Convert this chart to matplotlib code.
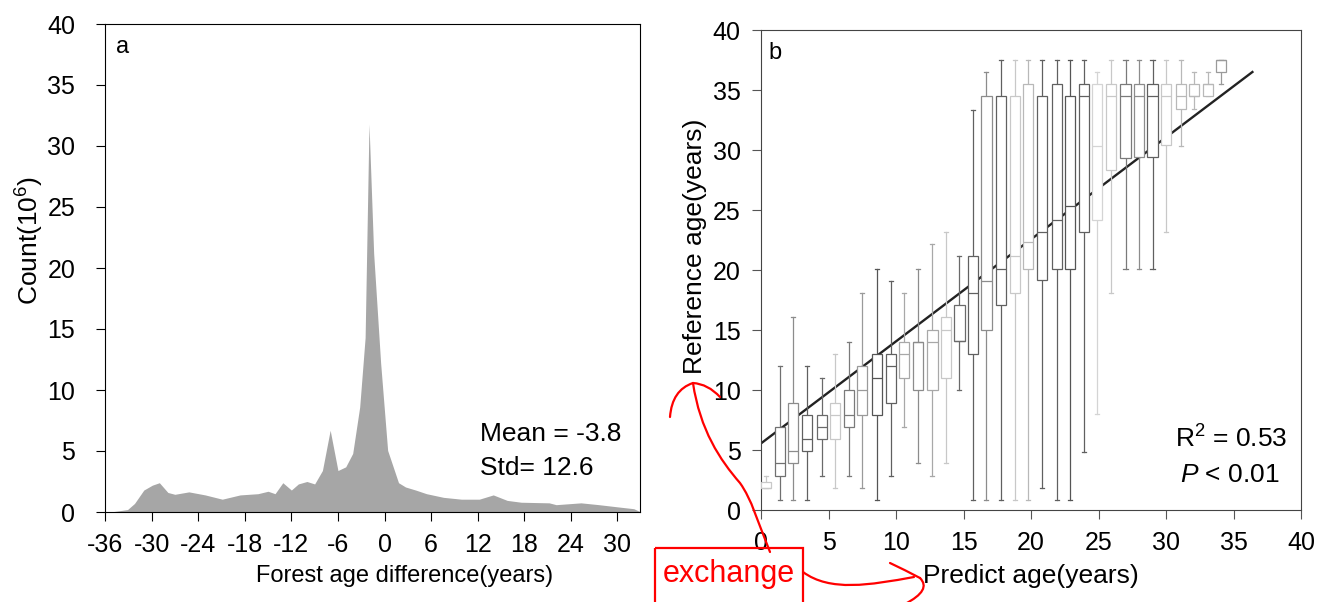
import matplotlib.pyplot as plt
from matplotlib.path import Path
from matplotlib.patches import PathPatch, Rectangle

plt.rcParams['font.family'] = ['Liberation Sans', 'DejaVu Sans']
plt.rcParams['mathtext.fontset'] = 'custom'
plt.rcParams['mathtext.rm'] = 'Liberation Sans'
plt.rcParams['mathtext.it'] = 'Liberation Sans:italic'
plt.rcParams['axes.unicode_minus'] = False

# panel a: distribution of forest age difference
diff_x = [-35.3, -33.1, -32.2, -31.0, -29.9, -29.0, -27.9, -27.0, -25.2, -23.1,
          -20.9, -18.6, -16.3, -15.0, -14.1, -13.1, -12.0, -11.1, -10.0, -9.0,
          -8.0, -7.0, -6.0, -5.0, -4.1, -3.2, -2.5, -2.0, -1.4, -0.5,
          0.4, 1.8, 2.7, 4.0, 5.4, 7.6, 9.9, 12.2, 14.0, 15.8,
          17.6, 21.2, 22.1, 25.3, 27.6, 30.3, 32.1, 33.0]
counts = [0, 0.2, 0.7, 1.8, 2.2, 2.4, 1.6, 1.45, 1.65, 1.4,
          1.05, 1.4, 1.5, 1.7, 1.5, 2.4, 1.8, 2.3, 2.5, 2.3,
          3.4, 6.7, 3.4, 3.7, 4.8, 8.6, 14.3, 31.8, 21.2, 12.2,
          5.05, 2.4, 2.05, 1.8, 1.5, 1.2, 1.05, 1.05, 1.4, 0.95,
          0.8, 0.75, 0.6, 0.75, 0.6, 0.4, 0.27, 0]

# panel b: reference age per predicted age bin
box_pos = [0.4, 1.4, 2.4, 3.4, 4.5, 5.5, 6.5, 7.5, 8.6, 9.6, 10.6, 11.6,
           12.7, 13.7, 14.7, 15.7, 16.7, 17.8, 18.8, 19.8, 20.8, 21.9, 22.9,
           23.9, 24.9, 25.9, 27.0, 28.0, 29.0, 30.0, 31.1, 32.1, 33.1, 34.1]
whislo = [1.8, 0.83, 0.83, 0.83, 2.85, 1.85, 2.85, 1.85, 0.83, 2.85, 6.9, 3.9,
          2.85, 3.9, 10.0, 0.83, 0.83, 0.83, 0.83, 0.83, 1.8, 0.83, 0.83,
          4.85, 7.97, 18.1, 20.1, 20.1, 20.1, 23.2, 30.3, 33.4, 34.5, 35.5]
q1 = [1.8, 2.85, 3.9, 4.9, 5.9, 5.9, 6.9, 7.95, 7.95, 8.95, 11.0, 10.0,
      10.0, 11.0, 14.1, 13.0, 15.0, 17.1, 18.1, 20.1, 19.2, 20.1, 20.1,
      23.2, 24.2, 28.3, 29.3, 29.4, 29.4, 30.4, 33.4, 34.5, 34.5, 36.5]
med = [1.8, 3.9, 4.9, 5.9, 6.9, 7.95, 7.95, 9.97, 11.0, 12.0, 13.0, 14.0,
       14.0, 15.0, 14.1, 18.1, 19.1, 20.1, 21.2, 22.3, 23.2, 24.2, 25.3,
       34.5, 30.3, 34.5, 34.5, 34.5, 34.5, 34.5, 34.5, 34.5, 35.5, 37.5]
q3 = [2.35, 6.9, 8.95, 7.95, 7.95, 8.95, 9.97, 12.0, 13.0, 13.0, 14.0, 14.0,
      15.0, 16.1, 17.1, 21.2, 34.5, 34.5, 34.5, 35.5, 34.5, 35.5, 34.5,
      35.5, 35.5, 35.5, 35.5, 35.5, 35.5, 35.5, 35.5, 35.5, 35.5, 37.5]
whishi = [2.85, 12.0, 16.1, 12.0, 11.0, 13.0, 14.0, 18.1, 20.1, 19.1, 18.1, 20.1,
          22.2, 23.2, 21.2, 33.3, 36.5, 37.5, 37.5, 37.5, 37.5, 37.5, 37.5,
          37.5, 36.5, 37.5, 37.5, 37.5, 37.5, 37.5, 37.5, 36.5, 36.5, 37.5]
box_colors = ['#c8c8c8', '#707070', '#8c8c8c', '#606060', '#6a6a6a', '#c8c8c8',
              '#7a7a7a', '#9a9a9a', '#555555', '#606060', '#a8a8a8', '#8c8c8c',
              '#a8a8a8', '#c8c8c8', '#6a6a6a', '#606060', '#8c8c8c', '#606060',
              '#c8c8c8', '#b8b8b8', '#606060', '#606060', '#555555', '#606060',
              '#d4d4d4', '#c8c8c8', '#7a7a7a', '#8c8c8c', '#606060', '#c8c8c8',
              '#b8b8b8', '#b8b8b8', '#b8b8b8', '#9a9a9a']
fit_x = [0, 36.4]
fit_y = [5.55, 36.5]

W, H = 1319, 602
fig = plt.figure(figsize=(W / 100, H / 100), dpi=100)

# ---- panel a
ax = fig.add_axes([105 / W, 90 / H, 535 / W, 488 / H])
ax.fill_between(diff_x, counts, color='#a6a6a6', linewidth=0)
ax.set_xlim(-36, 32.9)
ax.set_ylim(0, 40)
ax.set_xticks(range(-36, 31, 6))
ax.set_yticks(range(0, 41, 5))
ax.tick_params(direction='out', length=6.5, width=0.8, labelsize=18)
ax.tick_params(axis='x', pad=8.5)
ax.tick_params(axis='y', pad=15)
ax.set_xlabel('Forest age difference(years)', fontsize=17)
ax.set_ylabel('Count(10$^6$)', fontsize=19)
ax.xaxis.set_label_coords(0.56, -0.108)
ax.yaxis.set_label_coords(-0.11, 0.557)
ax.text(0.02, 0.975, 'a', transform=ax.transAxes, va='top', fontsize=17)
ax.text(12.3, 5.8, 'Mean = -3.8', fontsize=19)
ax.text(12.3, 3.0, 'Std= 12.6', fontsize=19)
for s in ax.spines.values():
    s.set_linewidth(0.8)

# ---- panel b
bx = fig.add_axes([761 / W, 92 / H, 540 / W, 480 / H])
bx.plot(fit_x, fit_y, color='#222222', linewidth=1.7, zorder=1)
stats = [dict(whislo=a, q1=b, med=c, q3=d, whishi=e, fliers=[])
         for a, b, c, d, e in zip(whislo, q1, med, q3, whishi)]
art = bx.bxp(stats, positions=box_pos, widths=0.75, capwidths=0.3,
             patch_artist=True, showfliers=False, manage_ticks=False,
             boxprops=dict(facecolor='white', linewidth=0.9),
             whiskerprops=dict(linewidth=0.9), capprops=dict(linewidth=0.9),
             medianprops=dict(linewidth=0.9))
for i, c in enumerate(box_colors):
    art['boxes'][i].set_edgecolor(c)
    art['boxes'][i].set_zorder(3)
    art['medians'][i].set_color(c)
    art['medians'][i].set_zorder(4)
    for k in (2 * i, 2 * i + 1):
        art['whiskers'][k].set_color(c)
        art['caps'][k].set_color(c)
bx.set_xlim(0, 40)
bx.set_ylim(0, 40)
bx.set_xticks(range(0, 41, 5))
bx.set_yticks(range(0, 41, 5))
bx.tick_params(direction='out', length=6.5, width=0.8, labelsize=18,
               color='#555555')
bx.tick_params(axis='x', pad=8.5)
bx.tick_params(axis='y', pad=8)
bx.set_xlabel('Predict age(years)', fontsize=19)
bx.set_ylabel('Reference age(years)', fontsize=19)
bx.xaxis.set_label_coords(0.5, -0.112)
bx.yaxis.set_label_coords(-0.1, 0.55)
bx.text(0.013, 0.975, 'b', transform=bx.transAxes, va='top', fontsize=17)
bx.text(30.7, 5.2, 'R$^2$ = 0.53', fontsize=19)
bx.text(31.0, 2.36, '$P$ < 0.01', fontsize=19)
for s in bx.spines.values():
    s.set_linewidth(0.8)
    s.set_color('#444444')

# ---- red hand-drawn annotation overlay (pixel coordinates)
ov = fig.add_axes([0, 0, 1, 1], zorder=10)
ov.set_xlim(0, W)
ov.set_ylim(H, 0)
ov.axis('off')
red = '#ff0000'
ov.add_patch(Rectangle((655, 548), 148, 60, fill=False, edgecolor=red,
                       linewidth=1.6))
ov.text(729, 574, 'exchange', color=red, fontsize=22, ha='center', va='center')

def curve(verts, codes):
    ov.add_patch(PathPatch(Path(verts, codes), fill=False, edgecolor=red,
                           linewidth=1.6, capstyle='round'))

C4 = Path.CURVE4
C3 = Path.CURVE3
M = Path.MOVETO
curve([(770, 552), (757, 520), (752, 500), (740, 483),
       (720, 460), (700, 430), (693, 383)], [M, C4, C4, C4, C4, C4, C4])
curve([(670, 417), (672, 390), (693, 383)], [M, C3, C3])
curve([(693, 383), (708, 384), (720, 397)], [M, C3, C3])
curve([(803, 572), (830, 592), (870, 585), (914, 577)], [M, C4, C4, C4])
curve([(890, 563), (905, 570), (920, 578)], [M, C3, C3])
curve([(920, 578), (932, 590), (905, 604)], [M, C3, C3])

fig.savefig('out.png', dpi=100)
